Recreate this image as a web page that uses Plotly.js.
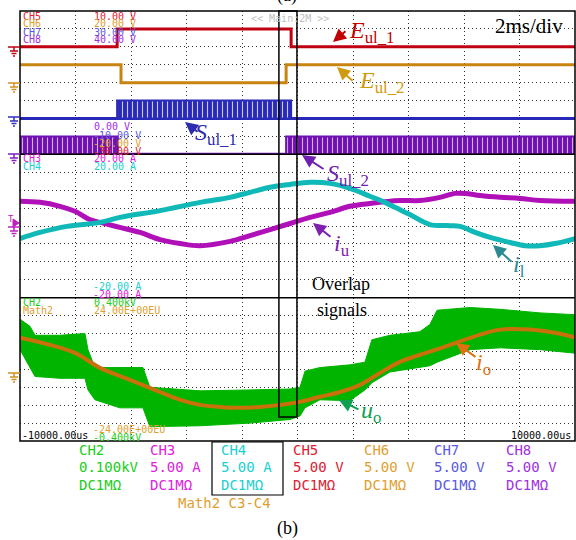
<!DOCTYPE html>
<html><head><meta charset="utf-8">
<script src="https://cdn.plot.ly/plotly-3.0.1.min.js"></script>
<style>html,body{margin:0;padding:0;background:#fff;} #chart{width:576px;height:540px;}</style>
</head><body><div id="chart"></div>
<script>
// ---------- DATA (time in us) ----------
// Top panel: logic signals (V)
const e1_t = [-10000, -6500, -6500, -230, -230, 10000];
const e1_v = [0, 0, 5, 5, 0, 0];
const e2_t = [-10000, -6360, -6360, -410, -410, 10000];
const e2_v = [5, 5, 0, 0, 5, 5];
const s1_start = [-6500];
const s1_end = [-230];
const s2_start = [-10000, -410];
const s2_end = [-6470, 10000];
const pwm_low = 0, pwm_high = 5;

// Middle panel: currents (A)
const iu_t = [-10000,-9280,-8560,-8020,-7480,-7120,-6400,-5680,-4950,-4230,-3510,-2430,-1710,-990,-270,450,1170,1890,2610,3690,4410,5130,5680,6040,6580,7300,8020,8740,10000];
const iu_v = [6.9,6.6,5.5,4.1,1.8,1.0,-0.4,-1.8,-3.8,-4.9,-5.5,-4.3,-2.7,-1.0,0.7,2.4,3.8,5.5,6.3,7.1,7.1,8.0,9.1,9.1,8.5,8.0,7.7,7.1,6.9];
const il_t = [-10000,-9280,-8310,-7120,-6400,-4950,-3510,-2430,-1710,-990,-270,450,1170,1890,2610,3150,3510,4050,4770,5500,5860,6400,6940,7660,8200,8740,9280,10000];
const il_v = [-3.5,-1.8,-0.1,1.0,2.4,4.3,6.6,8.0,9.4,10.8,11.6,12.2,11.9,10.5,8.3,6.6,5.2,3.2,0.4,0.1,-0.1,-1.8,-3.2,-4.6,-5.5,-5.5,-4.9,-3.5];

// Bottom panel: output current Math2 (EU) and output voltage band CH2 (kV)
const io_t = [-10000,-8920,-8020,-7120,-6040,-4950,-4230,-3510,-2790,-2070,-1350,-630,90,810,1530,2250,2970,3690,4770,5500,6580,7300,8380,9460,10000];
const io_v = [10.6,8.2,5.5,0.5,-3.5,-7.6,-10.2,-11.9,-12.6,-12.9,-12.6,-11.9,-10.9,-9.2,-7.6,-5.2,-1.2,2.5,5.9,8.2,11.6,13.3,13.3,11.9,10.6];
const uo_t  = [-10000,-9640,-9460,-8560,-7660,-7550,-7300,-6400,-5570,-5320,-3510,-1710,-270,90,270,810,1890,2430,2680,3330,4410,4770,5030,6220,7300,8740,10000];
const uo_hi = [0.28,0.24,0.19,0.19,0.20,0.11,0.01,0.01,0.01,-0.10,-0.12,-0.115,-0.11,-0.10,-0.01,0.01,0.025,0.04,0.165,0.19,0.21,0.25,0.33,0.345,0.335,0.315,0.305];
const uo_lo = [0.11,0.01,-0.04,-0.05,-0.05,-0.115,-0.17,-0.215,-0.215,-0.32,-0.315,-0.30,-0.28,-0.26,-0.215,-0.17,-0.175,-0.115,-0.075,-0.015,0.01,0.02,0.04,0.11,0.12,0.11,0.09];

// Overlap window (us)
const overlap_t = [-670, -20];

// ---------- helpers ----------
const L = 20, R = 575, T = 11, B = 441;
const px = x => (x - L) / (R - L);
const py = y => (B - y) / (B - T);

const traces = [];
// bottom: green band (CH2)
traces.push({x: uo_t, y: uo_hi, xaxis:'x', yaxis:'y', mode:'lines', line:{color:'#00b400', width:1}, hoverinfo:'skip'});
traces.push({x: uo_t, y: uo_lo, xaxis:'x', yaxis:'y', mode:'lines', fill:'tonexty', fillcolor:'#00b400', line:{color:'#00b400', width:1}, hoverinfo:'skip'});
// bottom: orange io (Math2)
traces.push({x: io_t, y: io_v, xaxis:'x', yaxis:'y7', mode:'lines', line:{color:'#c8700a', width:4, shape:'spline'}, hoverinfo:'skip'});
// middle
traces.push({x: iu_t, y: iu_v, xaxis:'x', yaxis:'y2', mode:'lines', line:{color:'#b010b8', width:5, shape:'spline'}, hoverinfo:'skip'});
traces.push({x: il_t, y: il_v, xaxis:'x', yaxis:'y2', mode:'lines', line:{color:'#10b8b8', width:5, shape:'spline'}, hoverinfo:'skip'});
// top
traces.push({x: e1_t, y: e1_v, xaxis:'x', yaxis:'y3', mode:'lines', line:{color:'#c00010', width:3}, hoverinfo:'skip'});
traces.push({x: e2_t, y: e2_v, xaxis:'x', yaxis:'y4', mode:'lines', line:{color:'#c88410', width:3}, hoverinfo:'skip'});
traces.push({x: [-10000, 10000], y: [pwm_low, pwm_low], xaxis:'x', yaxis:'y5', mode:'lines', line:{color:'#2828b8', width:3}, hoverinfo:'skip'});
traces.push({x: [-10000, 10000], y: [pwm_low, pwm_low], xaxis:'x', yaxis:'y6', mode:'lines', line:{color:'#7010b0', width:3}, hoverinfo:'skip'});
function pwmBlock(t0, t1, yax, col, stripe){
  return {x:[t0,t0,t1,t1,t0], y:[pwm_low,pwm_high,pwm_high,pwm_low,pwm_low], xaxis:'x', yaxis:yax, mode:'lines',
    fill:'toself', fillcolor:col, line:{color:col, width:2},
    fillpattern:{shape:'|', bgcolor:col, fgcolor:stripe, size:5, solidity:0.22}, hoverinfo:'skip'};
}
s1_start.forEach((s,i)=>traces.push(pwmBlock(s, s1_end[i], 'y5', '#2a2ab8', '#c8c8f4')));
s2_start.forEach((s,i)=>traces.push(pwmBlock(s, s2_end[i], 'y6', '#7010b0', '#d0b0ec')));

const grid = {showgrid:true, gridcolor:'#333', griddash:'1px,3px', gridwidth:1, zeroline:false, showticklabels:false, ticks:'', showline:false, fixedrange:true};
const hidden = {visible:false, showgrid:false, zeroline:false, fixedrange:true};

const layout = {
  width:576, height:540, margin:{l:L, r:576-R, t:T, b:540-B},
  paper_bgcolor:'#fff', plot_bgcolor:'#fff', showlegend:false,
  xaxis: Object.assign({range:[-10000,10000], tick0:-10000, dtick:2000, anchor:'y'}, grid),
  yaxis: Object.assign({domain:[0,1/3], range:[-0.4,0.4], tick0:0, dtick:0.1, anchor:'x'}, grid),
  yaxis7: Object.assign({overlaying:'y', range:[-24,24]}, hidden),
  yaxis2: Object.assign({domain:[1/3,2/3], range:[-20,20], tick0:0, dtick:5, anchor:'x'}, grid),
  yaxis3: Object.assign({domain:[2/3,1], range:[-30,10], tick0:0, dtick:5, anchor:'x'}, grid),
  yaxis4: Object.assign({overlaying:'y3', range:[-20,20]}, hidden),
  yaxis5: Object.assign({overlaying:'y3', range:[-10,30]}, hidden),
  yaxis6: Object.assign({overlaying:'y3', range:[0,40]}, hidden),
  shapes: [], annotations: []
};

// frame + panel separators
layout.shapes.push({type:'rect', xref:'paper', yref:'paper', x0:0, x1:1, y0:0, y1:1, line:{color:'#000', width:1.5}, layer:'above'});
layout.shapes.push({type:'line', xref:'paper', yref:'paper', x0:0, x1:1, y0:1/3, y1:1/3, line:{color:'#000', width:1.5}, layer:'above'});
layout.shapes.push({type:'line', xref:'paper', yref:'paper', x0:0, x1:1, y0:2/3, y1:2/3, line:{color:'#000', width:1.5}, layer:'above'});
// overlap box
layout.shapes.push({type:'rect', xref:'x', yref:'paper', x0:overlap_t[0], x1:overlap_t[1], y0:py(417), y1:1, line:{color:'#000', width:1.5}, layer:'above'});
// CH4 box in info area
layout.shapes.push({type:'rect', xref:'paper', yref:'paper', x0:px(212), x1:px(283), y0:py(495), y1:py(442), line:{color:'#000', width:1.2}});

// ground markers
function gnd(y, col){
  const p = (a,b)=>px(a)+','+py(b);
  const path = 'M'+p(8,y)+' L'+p(20,y)+' M'+p(14,y)+' L'+p(14,y+4)+' M'+p(10,y+4)+' L'+p(18,y+4)+
    ' M'+p(11.5,y+6.5)+' L'+p(16.5,y+6.5)+' M'+p(13,y+9)+' L'+p(15,y+9);
  layout.shapes.push({type:'path', xref:'paper', yref:'paper', path:path, line:{color:col, width:1.5}});
}
gnd(47,'#c00010'); gnd(83,'#d09020'); gnd(117,'#3030c0'); gnd(154,'#8020c0'); gnd(227,'#c020c0'); gnd(373,'#d09020');
// trigger marker
layout.shapes.push({type:'path', xref:'paper', yref:'paper', path:'M'+px(13)+','+py(219)+' L'+px(19)+','+py(223)+' L'+px(13)+','+py(227)+' Z', fillcolor:'#c020c0', line:{color:'#c020c0', width:1}});

const ann = layout.annotations;
function lab(text, x, y, col, size, fam, anchor){
  ann.push({text:text, x:px(x), y:py(y), xref:'paper', yref:'paper', xanchor:anchor||'left', yanchor:'middle',
    showarrow:false, font:{family:fam||'DejaVu Sans Mono', size:size||10, color:col}, borderpad:0});
}
function arrow(hx, hy, tx, ty, col){
  ann.push({text:'', x:px(hx), y:py(hy), xref:'paper', yref:'paper', ax:tx-hx, ay:ty-hy, showarrow:true,
    arrowhead:2, arrowsize:1.3, arrowwidth:2, arrowcolor:col});
}
lab('T', 7, 219, '#c020c0', 9);

// scope channel labels
const cRed='#e02030', cOra='#e0a030', cBlu='#5a5ae0', cPur='#a030e0', cMag='#e020e0', cCya='#20d0d0', cGrn='#20cc20';
lab('CH5',22,16,cRed); lab('10.00 V',93,16,cRed);
lab('CH6',22,24,cOra); lab('20.00 V',93,24,cOra);
lab('CH7',22,32,cBlu); lab('30.00 V',93,32,cBlu);
lab('CH8',22,40,cPur); lab('40.00 V',93,40,cPur);
lab('0.00 V',93,127,cPur); lab('-10.00 V',92,135,cBlu); lab('-20.00 V',92,143,cOra); lab('-30.00 V',92,151,cRed);
lab('CH3',22,158,cMag); lab('20.00 A',93,158,cMag);
lab('CH4',22,166,cCya); lab('20.00 A',93,166,cCya);
lab('-20.00 A',92,286,cCya); lab('-20.00 A',92,294,cMag);
lab('CH2',22,302,cGrn); lab('0.400kV',93,302,cGrn);
lab('Math2',22,310,cOra); lab('24.00E+00EU',93,310,cOra);
lab('-24.00E+00EU',92,429,cOra); lab('-0.400kV',92,437,cGrn);
lab('-10000.00us',21,435,'#000');
lab('10000.00us',572,435,'#000',10,null,'right');
lab('<< Main:2M >>',250,18,'#c0c0c0',10);

// info rows
const infoX = [78,149,220,292,363,433,505];
const infoC = [cGrn,cMag,cCya,cRed,cOra,cBlu,cPur];
const infoN = ['CH2','CH3','CH4','CH5','CH6','CH7','CH8'];
const infoS = ['0.100kV','5.00 A','5.00 A','5.00 V','5.00 V','5.00 V','5.00 V'];
infoX.forEach((x,i)=>{ lab(infoN[i],x,450,infoC[i],14); lab(infoS[i],x,467,infoC[i],14); lab('DC1MΩ',x,485,infoC[i],14); });
lab('Math2 C3-C4',177,503,cOra,14);

// serif annotations
const serif = 'Liberation Serif';
lab('(a)',287,-4,'#000',18,serif,'center');
lab('(b)',287,528,'#000',18,serif,'center');
lab('2ms/div',494,26,'#000',21,serif);
lab('Overlap',341,284,'#000',18,serif,'center');
lab('signals',342,310,'#000',18,serif,'center');
lab('<i>E</i><sub>ul_1</sub>',348,32,'#c00000',24,serif);
lab('<i>E</i><sub>ul_2</sub>',358,82,'#d09a10',24,serif);
lab('<i>S</i><sub>ul_1</sub>',194,134,'#2c2cb0',24,serif);
lab('<i>S</i><sub>ul_2</sub>',326,175,'#7020b0',24,serif);
lab('<i>i</i><sub>u</sub>',333,245,'#8020b0',24,serif);
lab('<i>i</i><sub>l</sub>',512,266,'#2a8a90',24,serif);
lab('<i>i</i><sub>o</sub>',475,364,'#e07010',24,serif);
lab('<i>u</i><sub>o</sub>',360,412,'#10a050',24,serif);

arrow(333,42,347,30,'#c00000');
arrow(337,67,354,82,'#d09a10');
arrow(185,122,199,133,'#2c2cb0');
arrow(302,155,325,170,'#7020b0');
arrow(313,223,332,238,'#8020b0');
arrow(493,245,513,263,'#2a8a90');
arrow(456,343,477,358,'#e07010');
arrow(339,400,360,410,'#10a050');

Plotly.newPlot('chart', traces, layout, {staticPlot:true, displayModeBar:false});
</script>
</body></html>
